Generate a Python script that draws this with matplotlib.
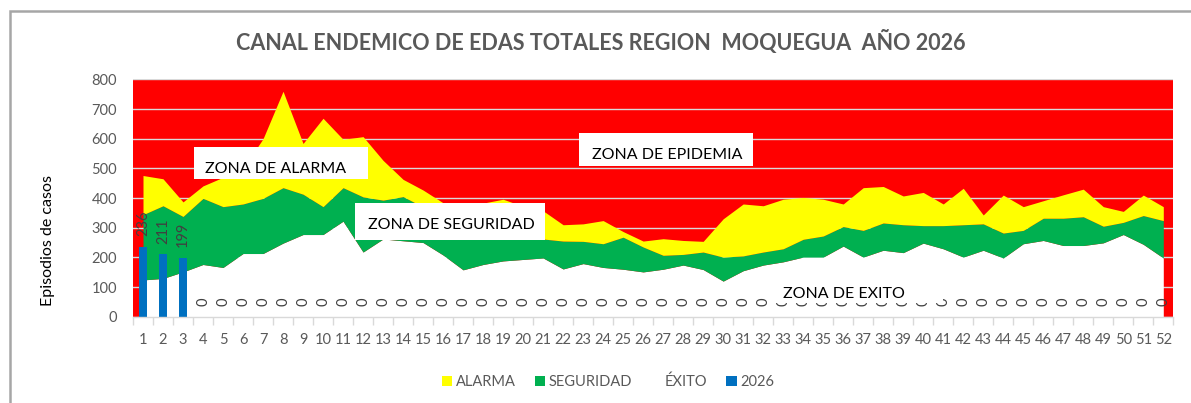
import matplotlib
matplotlib.use("Agg")
import matplotlib.pyplot as plt
from matplotlib.patches import Rectangle, Patch
from matplotlib.ticker import FixedLocator, NullFormatter

# ---------------- data ----------------
weeks = list(range(1, 53))
exito = [124, 129, 151, 176, 166, 213, 213, 248, 277, 277, 322, 218, 262, 256, 250, 208,
         158, 176, 188, 193, 198, 161, 179, 166, 160, 151, 160, 174, 159, 120, 155, 174,
         185, 201, 201, 238, 201, 224, 216, 248, 229, 201, 224, 198, 246, 257, 240, 240,
         249, 277, 244, 198]
seguridad = [344, 374, 338, 399, 371, 380, 399, 435, 413, 371, 435, 404, 393, 405, 370, 340,
             300, 295, 290, 270, 262, 255, 254, 246, 268, 235, 207, 210, 218, 201, 205, 218,
             229, 261, 272, 304, 291, 316, 310, 307, 307, 310, 313, 282, 291, 332, 332, 337,
             305, 318, 341, 324]
alarma = [476, 465, 387, 441, 470, 500, 600, 760, 584, 669, 598, 607, 527, 463, 427, 384,
          385, 383, 396, 372, 357, 310, 313, 324, 287, 255, 263, 257, 254, 330, 380, 374,
          396, 402, 396, 380, 435, 439, 407, 419, 380, 433, 343, 410, 371, 391, 411, 430,
          371, 355, 410, 371]
casos_2026 = [236, 211, 199, 0, 0, 0, 0, 0, 0, 0, 0, 0, 0, 0, 0, 0, 0, 0, 0, 0, 0, 0, 0, 0,
              0, 0, 0, 0, 0, 0, 0, 0, 0, 0, 0, 0, 0, 0, 0, 0, 0, 0, 0, 0, 0, 0, 0, 0, 0, 0, 0, 0]
y_ticks = [0, 100, 200, 300, 400, 500, 600, 700, 800]
title = "CANAL ENDEMICO DE EDAS TOTALES REGION  MOQUEGUA  AÑO 2026"
ylabel = "Episodios de casos"
legend_labels = ["ALARMA", "SEGURIDAD", "ÉXITO", "2026"]

# ---------------- style ----------------
W, H = 1191, 403
FONT = ["Lato", "DejaVu Sans"]
plt.rcParams["font.family"] = FONT
RED, YELLOW, GREEN, BLUE = "#FF0000", "#FFFF00", "#00B050", "#0070C0"
GRAY_TXT = "#595959"


def fx(x):
    return x / W


def fy(y):
    return 1 - y / H


fig = plt.figure(figsize=(W / 100, H / 100), dpi=100)
fig.patch.set_facecolor("white")

ax_l, ax_r, ax_t, ax_b = 133, 1173.3, 79.4, 316.7
ax = fig.add_axes([fx(ax_l), fy(ax_b), (ax_r - ax_l) / W, (ax_b - ax_t) / H])
ax.set_facecolor(RED)
ax.set_xlim(0.5, 52.5)
ax.set_ylim(0, 800)

ax.set_axisbelow(True)
ax.yaxis.set_major_locator(FixedLocator(y_ticks))
ax.grid(axis="y", color="#D9D9D9", lw=1.0)
ax.grid(axis="x", visible=False)

ax.fill_between(weeks, 0, exito, color="white", lw=0, zorder=2)
ax.fill_between(weeks, exito, seguridad, color=GREEN, lw=0, zorder=2)
ax.fill_between(weeks, seguridad, alarma, color=YELLOW, lw=0, zorder=2)

bars = ax.bar(weeks, casos_2026, width=0.38, color=BLUE, zorder=3)
for w, v in zip(weeks, casos_2026):
    ax.annotate(str(v), (w, v), xytext=(0, 7.5), textcoords="offset points",
                rotation=90, ha="center", va="bottom", fontsize=10.5,
                color="#404040", zorder=4)

for s in ["left", "right", "top"]:
    ax.spines[s].set_visible(False)
ax.spines["bottom"].set_color("#D9D9D9")
ax.spines["bottom"].set_linewidth(1.0)
ax.spines["bottom"].set_zorder(5)

ax.set_xticks([w + 0.5 for w in [0] + weeks])
ax.xaxis.set_major_formatter(NullFormatter())
ax.tick_params(axis="x", which="major", length=6, color="#D9D9D9", width=1)
ax.set_xticks(weeks, minor=True)
ax.set_xticklabels([str(w) for w in weeks], minor=True)
ax.tick_params(axis="x", which="minor", length=0, pad=12, labelsize=10.5,
               labelcolor=GRAY_TXT)
ax.tick_params(axis="y", length=0, pad=11.5, labelsize=10.5, labelcolor=GRAY_TXT)

# title and y label
fig.text(fx(601), fy(42), title, ha="center", va="center", fontsize=15.5,
         fontweight="bold", color=GRAY_TXT)
fig.text(fx(48), fy(240.5), ylabel, rotation=90, ha="center", va="center",
         fontsize=11.5, color="black")

# zone text boxes (white boxes over the chart)
boxes = [
    ((194, 146.7, 368.3, 179.3), (205, 173.3), "ZONA DE ALARMA"),
    ((355, 203.3, 545, 240), (368.3, 229.3), "ZONA DE SEGURIDAD"),
    ((579, 133, 753, 166), (591.7, 159.3), "ZONA DE EPIDEMIA"),
    ((772, 270, 943, 302.5), (783, 298), "ZONA DE EXITO"),
]
for (x0, y0, x1, y1), (tx, ty), lab in boxes:
    fig.patches.append(Rectangle((fx(x0), fy(y1)), (x1 - x0) / W, (y1 - y0) / H,
                                 transform=fig.transFigure, facecolor="white",
                                 edgecolor="none", zorder=6))
    fig.text(fx(tx), fy(ty), lab, ha="left", va="baseline", fontsize=11.5,
             color="black", zorder=7)

# legend
handles = [Patch(facecolor=YELLOW), Patch(facecolor=GREEN),
           Patch(facecolor="white"), Patch(facecolor=BLUE)]
fig.legend(handles, legend_labels, loc="center", bbox_to_anchor=(fx(608), fy(382)),
           ncol=4, frameon=False, fontsize=10.5, labelcolor=GRAY_TXT,
           handlelength=0.7, handleheight=0.7, handletextpad=0.25,
           columnspacing=1.3)

# chart border
fig.patches.append(Rectangle((fx(9.5), fy(H + 20)), (W + 20) / W, (H + 9.5) / H,
                             transform=fig.transFigure, fill=False,
                             edgecolor="#A6A6A6", lw=1.8, zorder=10))

fig.savefig("out.png", dpi=100)
